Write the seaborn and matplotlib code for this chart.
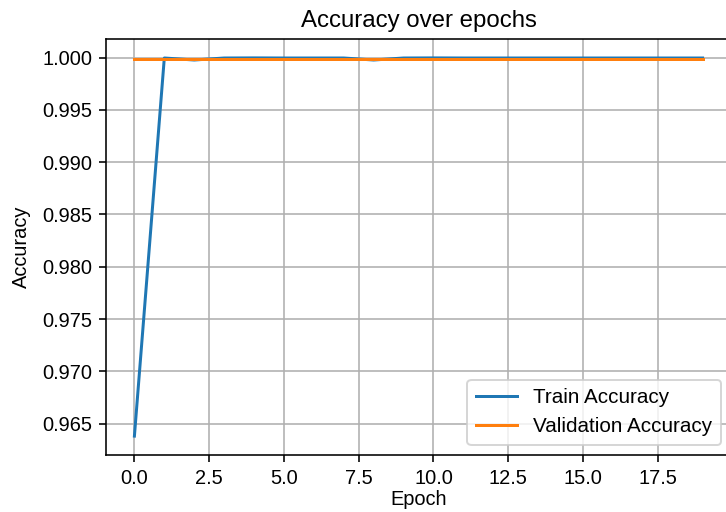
import matplotlib
matplotlib.use("Agg")
import matplotlib.pyplot as plt
import seaborn as sns
import numpy as np
import pandas as pd

epochs = list(range(20))
train_acc = [0.9638, 0.99997, 0.99978, 0.99997, 0.99998, 0.99997, 0.99997, 0.99997,
             0.99978, 0.99997, 0.99998, 0.99997, 0.99997, 0.99997, 0.99997, 0.99997,
             0.99997, 0.99997, 0.99997, 0.99997]
val_acc = [0.99988, 0.99988, 0.99988, 0.99988, 0.99988, 0.99988, 0.99988, 0.99988,
           0.99988, 0.99988, 0.99988, 0.99988, 0.99988, 0.99988, 0.99988, 0.99988,
           0.99988, 0.99988, 0.99988, 0.99988]

plt.rcParams['font.family'] = ['Liberation Sans', 'DejaVu Sans']

fig = plt.figure(figsize=(726 / 144, 512 / 144), dpi=144)
ax = fig.add_axes([106 / 726, 57 / 512, 625 / 726, 416 / 512])

df_train = pd.DataFrame({"Epoch": epochs, "Accuracy": train_acc})
df_val = pd.DataFrame({"Epoch": epochs, "Accuracy": val_acc})
sns.lineplot(data=df_train, x="Epoch", y="Accuracy", ax=ax, color="#1f77b4",
             label="Train Accuracy", linewidth=1.5)
sns.lineplot(data=df_val, x="Epoch", y="Accuracy", ax=ax, color="#ff7f0e",
             label="Validation Accuracy", linewidth=1.5)

ax.set_title("Accuracy over epochs", fontsize=12)
ax.set_xlabel("Epoch", fontsize=10, labelpad=0.8)
ax.set_ylabel("Accuracy", fontsize=10, labelpad=5.5)
ax.tick_params(labelsize=10)
ax.grid(True, color="#b0b0b0", linewidth=0.8)
ax.set_xticks(np.arange(0, 20, 2.5))
ax.legend(loc="lower right", fontsize=10.3)

fig.savefig("out.png", dpi=144)
